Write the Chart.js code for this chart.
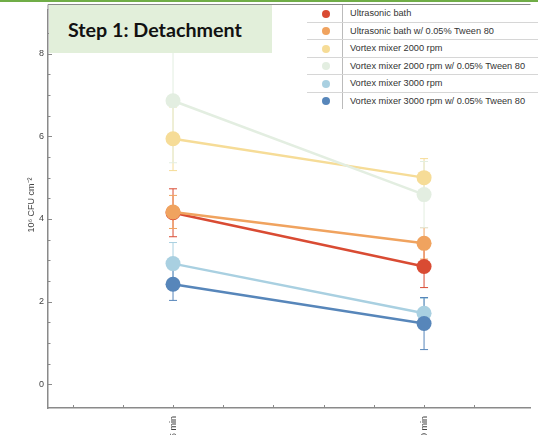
<!DOCTYPE html>
<html>
<head>
<meta charset="utf-8">
<script src="https://cdn.jsdelivr.net/npm/chart.js@4.4.0/dist/chart.umd.min.js"></script>
<style>
  body { margin: 0; width: 538px; height: 435px; overflow: hidden; background: #fff; font-family: "Liberation Sans", Arial, sans-serif; }
  #wrap { position: relative; width: 538px; height: 435px; }
  #chart { position: absolute; left: 0; top: 0; }
  #topline { position: absolute; left: 0; top: 0; width: 538px; height: 2px; background: #70ad47; }
  #title { position: absolute; left: 49px; top: 5px; width: 223px; height: 48px; background: #e2efda;
           font-family: Lato, "Open Sans", sans-serif; font-weight: bold; font-size: 19.7px; line-height: 50px;
           padding-left: 19px; box-sizing: border-box; color: #111; white-space: nowrap; }
  #legend { position: absolute; left: 307px; top: 5px; width: 231px; background: #fff; border-collapse: collapse;
            font-size: 9.2px; color: #333; }
  #legend td { height: 16.5px; padding: 0; border-bottom: 1px solid #d6d6d6; }
  #legend tr:last-child td { border-bottom: none; }
  #legend td.dot { width: 33px; text-align: center; border-right: 1px solid #bbb; padding-left: 2px; }
  #legend td.dot span { display: inline-block; width: 8px; height: 8px; border-radius: 50%; vertical-align: middle; }
  #legend td.txt { padding-left: 7px; }
</style>
</head>
<body>
<div id="wrap">
  <canvas id="chart" width="538" height="435"></canvas>
  <div id="topline"></div>
  <div id="title">Step 1: Detachment</div>
  <table id="legend"></table>
</div>
<script>
// x positions (minutes) and their labels
const timePoints = [5, 30];
const timeLabels = ['5 min', '30 min'];

const seriesNames = [
  'Ultrasonic bath',
  'Ultrasonic bath w/ 0.05% Tween 80',
  'Vortex mixer 2000 rpm',
  'Vortex mixer 2000 rpm w/ 0.05% Tween 80',
  'Vortex mixer 3000 rpm',
  'Vortex mixer 3000 rpm w/ 0.05% Tween 80'
];
const seriesColors = ['#d94b33', '#f0a35f', '#f6dc97', '#e3eee1', '#a9d0e1', '#5786ba'];

// means, 10^6 CFU cm^-2
const ultrasonicBath      = [4.15, 2.85];
const ultrasonicTween     = [4.17, 3.41];
const vortex2000          = [5.94, 5.00];
const vortex2000Tween     = [6.86, 4.59];
const vortex3000          = [2.92, 1.72];
const vortex3000Tween     = [2.42, 1.47];

// error bar half-widths
const ultrasonicBathErr   = [0.58, 0.51];
const ultrasonicTweenErr  = [0.40, 0.38];
const vortex2000Err       = [0.77, 0.46];
const vortex2000TweenErr  = [1.50, 0.80];
const vortex3000Err       = [0.51, 0.36];
const vortex3000TweenErr  = [0.39, 0.63];

const seriesValues = [ultrasonicBath, ultrasonicTween, vortex2000, vortex2000Tween, vortex3000, vortex3000Tween];
const seriesErrors = [ultrasonicBathErr, ultrasonicTweenErr, vortex2000Err, vortex2000TweenErr, vortex3000Err, vortex3000TweenErr];

const yTitle = '10\u2076 CFU cm\u207B\u00B2';
const axisColor = '#8a8a8a';

// legend table
const legend = document.getElementById('legend');
seriesNames.forEach((name, i) => {
  const tr = document.createElement('tr');
  tr.innerHTML = '<td class="dot"><span style="background:' + seriesColors[i] + '"></span></td><td class="txt">' + name + '</td>';
  legend.appendChild(tr);
});

const datasets = seriesNames.map((name, i) => ({
  label: name,
  data: timePoints.map((t, j) => ({ x: t, y: seriesValues[i][j] })),
  borderColor: seriesColors[i],
  backgroundColor: seriesColors[i],
  borderWidth: 2.5,
  pointRadius: 7.5,
  pointHoverRadius: 7.5,
  pointBorderWidth: 0,
  showLine: true,
  order: seriesNames.length - i
}));

const errorBars = {
  id: 'errorBars',
  beforeDatasetsDraw(chart) {
    const ctx = chart.ctx;
    const xs = chart.scales.x, ys = chart.scales.y;
    ctx.save();
    ctx.lineWidth = 1;
    seriesValues.forEach((vals, i) => {
      ctx.strokeStyle = seriesColors[i];
      vals.forEach((v, j) => {
        const px = xs.getPixelForValue(timePoints[j]);
        const top = ys.getPixelForValue(v + seriesErrors[i][j]);
        const bot = ys.getPixelForValue(v - seriesErrors[i][j]);
        ctx.beginPath();
        ctx.moveTo(px, top); ctx.lineTo(px, bot);
        ctx.moveTo(px - 4, top); ctx.lineTo(px + 4, top);
        ctx.moveTo(px - 4, bot); ctx.lineTo(px + 4, bot);
        ctx.stroke();
      });
    });
    ctx.restore();
  }
};

const axisDecor = {
  id: 'axisDecor',
  afterDraw(chart) {
    const ctx = chart.ctx;
    const xs = chart.scales.x, ys = chart.scales.y;
    const area = chart.chartArea;
    ctx.save();
    ctx.strokeStyle = axisColor;
    ctx.lineWidth = 1;
    ctx.beginPath();
    xs.ticks.forEach(t => {
      const px = Math.round(xs.getPixelForValue(t.value)) + 0.5;
      ctx.moveTo(px, area.bottom); ctx.lineTo(px, area.bottom - 3);
    });
    ys.ticks.forEach(t => {
      const py = Math.round(ys.getPixelForValue(t.value)) + 0.5;
      const len = Math.abs(t.value % 2) < 1e-6 ? 4 : 2.5;
      ctx.moveTo(area.left, py); ctx.lineTo(area.left + len, py);
    });
    // frame line along the top, joined to the y axis
    ctx.moveTo(area.left, 4.5); ctx.lineTo(area.right, 4.5);
    ctx.moveTo(area.left, 4.5); ctx.lineTo(area.left, area.top);
    ctx.stroke();
    // y axis title
    ctx.translate(32, 205);
    ctx.rotate(-Math.PI / 2);
    ctx.fillStyle = '#444';
    ctx.font = '9px "Liberation Sans", Arial, sans-serif';
    ctx.textAlign = 'center';
    ctx.textBaseline = 'middle';
    ctx.fillText(yTitle, 0, 0);
    ctx.restore();
  }
};

new Chart(document.getElementById('chart'), {
  type: 'scatter',
  data: { datasets: datasets },
  options: {
    responsive: false,
    animation: false,
    layout: { padding: 0 },
    plugins: { legend: { display: false }, tooltip: { enabled: false } },
    scales: {
      x: {
        type: 'linear',
        min: -7.45,
        max: 40.6,
        afterFit: s => { s.height = 27; },
        afterBuildTicks: s => { s.ticks = s.ticks.filter(t => Math.abs(t.value % 5) < 1e-6); },
        grid: { display: true, drawOnChartArea: false, drawTicks: false },
        border: { color: axisColor, width: 1.5 },
        ticks: {
          stepSize: 5,
          autoSkip: false,
          minRotation: 90,
          maxRotation: 90,
          padding: 8,
          color: '#444',
          font: { size: 9, family: '"Liberation Sans", Arial, sans-serif' },
          callback: v => { const k = timePoints.indexOf(v); return k >= 0 ? timeLabels[k] : ''; }
        }
      },
      y: {
        min: -0.573,
        max: 9.07,
        afterFit: s => { s.width = 48; },
        afterBuildTicks: s => { s.ticks = s.ticks.filter(t => Math.abs(t.value * 2 - Math.round(t.value * 2)) < 1e-6); },
        grid: { display: true, drawOnChartArea: false, drawTicks: false },
        border: { color: axisColor, width: 1.5 },
        ticks: {
          stepSize: 0.5,
          autoSkip: false,
          padding: 4,
          color: '#444',
          font: { size: 9, family: '"Liberation Sans", Arial, sans-serif' },
          callback: v => (v >= 0 && Math.abs(v % 2) < 1e-6 ? v : '')
        }
      }
    }
  },
  plugins: [errorBars, axisDecor]
});
</script>
</body>
</html>
